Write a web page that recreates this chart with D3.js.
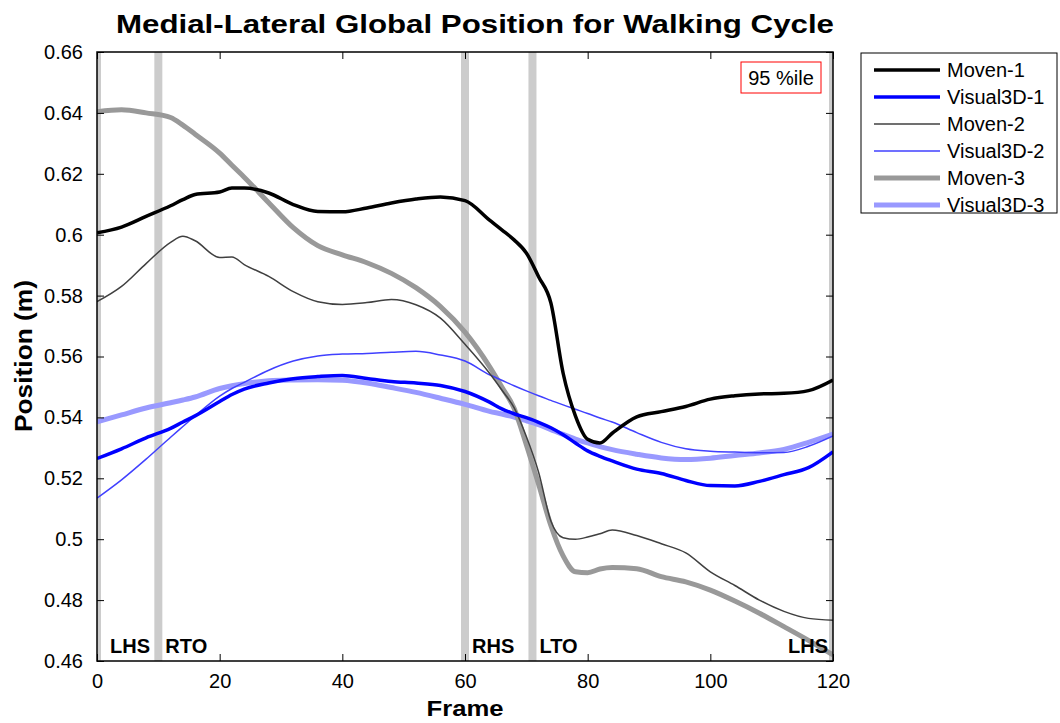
<!DOCTYPE html>
<html>
<head>
<meta charset="utf-8">
<script src="https://cdn.jsdelivr.net/npm/d3@7.9.0/dist/d3.min.js"></script>
<style>
  body { margin: 0; background: #fff; }
  svg { font-family: "Liberation Sans", Arial, sans-serif; }
</style>
</head>
<body>
<svg id="chart" width="1060" height="723"></svg>
<script>
// frames where the curves were sampled
const frames = [0,4,8,12,14,16,20,22,24,28,32,36,40,44,48,52,56,60,64,66,68,70,72,74,76,78,80,82,84,88,92,96,100,104,108,112,116,120];

const moven1 = [0.6006,0.6025,0.6060,0.6095,0.6115,0.6132,0.6140,0.6153,0.6153,0.6137,0.6099,0.6076,0.6075,0.6088,0.6104,0.6117,0.6124,0.6112,0.6048,0.6016,0.5983,0.5940,0.5862,0.5776,0.5545,0.5405,0.5328,0.5316,0.5348,0.5402,0.5419,0.5436,0.5460,0.5471,0.5477,0.5479,0.5488,0.5523];
const visual1 = [0.5265,0.5297,0.5333,0.5364,0.5385,0.5405,0.5452,0.5475,0.5493,0.5513,0.5527,0.5534,0.5538,0.5528,0.5518,0.5513,0.5505,0.5485,0.5450,0.5428,0.5412,0.5399,0.5384,0.5366,0.5343,0.5316,0.5290,0.5272,0.5257,0.5230,0.5216,0.5193,0.5176,0.5175,0.5190,0.5212,0.5235,0.5287];
const moven2 = [0.5780,0.5830,0.5905,0.5975,0.5995,0.5980,0.5925,0.5927,0.5902,0.5863,0.5813,0.5780,0.5771,0.5777,0.5787,0.5770,0.5726,0.5640,0.5545,0.5490,0.5432,0.5337,0.5220,0.5060,0.5005,0.5000,0.5007,0.5018,0.5030,0.5012,0.4985,0.4955,0.4893,0.4848,0.4800,0.4763,0.4740,0.4734];
const visual2 = [0.5135,0.5195,0.5263,0.5335,0.5370,0.5405,0.5470,0.5495,0.5515,0.5555,0.5585,0.5602,0.5608,0.5610,0.5614,0.5617,0.5605,0.5585,0.5540,0.5522,0.5504,0.5487,0.5471,0.5456,0.5441,0.5427,0.5413,0.5398,0.5385,0.5350,0.5318,0.5297,0.5289,0.5286,0.5284,0.5285,0.5305,0.5339];
const moven3 = [0.6404,0.6410,0.6400,0.6385,0.6360,0.6330,0.6268,0.6228,0.6189,0.6105,0.6023,0.5964,0.5934,0.5908,0.5873,0.5826,0.5764,0.5680,0.5567,0.5500,0.5430,0.5310,0.5180,0.5045,0.4945,0.4893,0.4890,0.4902,0.4907,0.4903,0.4877,0.4860,0.4833,0.4797,0.4757,0.4713,0.4668,0.4620];
const visual3 = [0.5385,0.5408,0.5431,0.5448,0.5457,0.5467,0.5495,0.5504,0.5511,0.5520,0.5523,0.5524,0.5522,0.5513,0.5498,0.5482,0.5463,0.5443,0.5420,0.5411,0.5401,0.5389,0.5376,0.5360,0.5344,0.5329,0.5316,0.5304,0.5294,0.5279,0.5267,0.5262,0.5266,0.5275,0.5283,0.5295,0.5318,0.5345];

const seriesNames = ["Moven-1","Visual3D-1","Moven-2","Visual3D-2","Moven-3","Visual3D-3"];

// gait events (gray bars)
const eventFrames = [0, 10, 60, 71, 120];
const eventLabels = ["LHS", "RTO", "RHS", "LTO", "LHS"];

const xTicks = [0,20,40,60,80,100,120];
const yTicks = [0.46,0.48,0.5,0.52,0.54,0.56,0.58,0.6,0.62,0.64,0.66];

const series = [
  {name: seriesNames[0], values: moven1,  color: "#000000", width: 3.5},
  {name: seriesNames[1], values: visual1, color: "#0000ff", width: 3.5},
  {name: seriesNames[2], values: moven2,  color: "#404040", width: 1.5},
  {name: seriesNames[3], values: visual2, color: "#4040ff", width: 1.5},
  {name: seriesNames[4], values: moven3,  color: "#999999", width: 5},
  {name: seriesNames[5], values: visual3, color: "#9999ff", width: 5}
];

const plotL = 97, plotT = 52, plotR = 833, plotB = 661;
const svg = d3.select('#chart');

const x = d3.scaleLinear().domain([0,120]).range([plotL,plotR]);
const y = d3.scaleLinear().domain([0.46,0.66]).range([plotB,plotT]);

svg.append('clipPath').attr('id','plotclip')
  .append('rect').attr('x',plotL).attr('y',plotT).attr('width',plotR-plotL).attr('height',plotB-plotT);

const plot = svg.append('g').attr('clip-path','url(#plotclip)');

// event bars
plot.selectAll('rect.ev')
  .data(eventFrames)
  .enter()
  .append('rect')
  .attr('x', d => x(d) - 4)
  .attr('y', plotT)
  .attr('width', 8)
  .attr('height', plotB - plotT)
  .attr('fill', '#cccccc');

// lines, drawn last-to-first so Moven-1 ends on top
let line = d3.line()
  .x((d, i) => x(frames[i]))
  .y(d => y(d))
  .curve(d3.curveMonotoneX);

plot.selectAll('path.s')
  .data(series.slice().reverse())
  .enter()
  .append('path')
  .attr('d', d => line(d.values))
  .attr('fill', 'none')
  .attr('stroke', d => d.color)
  .attr('stroke-width', d => d.width)
  .attr('stroke-linejoin', 'round');

// event labels
svg.selectAll('text.ev')
  .data(eventLabels)
  .enter()
  .append('text')
  .attr('x', (d, i) => i === 0 ? x(eventFrames[i]) + 13 : (i === eventLabels.length - 1 ? x(eventFrames[i]) - 5 : x(eventFrames[i]) + 7))
  .attr('y', 653)
  .attr('text-anchor', (d, i) => i === eventLabels.length - 1 ? 'end' : 'start')
  .attr('font-size', 20)
  .attr('font-weight', 'bold')
  .text(d => d);

// axes box + inward ticks
const fmt = v => String(+v.toFixed(2));
svg.append('g').attr('transform', `translate(0,${plotB})`)
  .call(d3.axisBottom(x).tickValues(xTicks).tickSize(-7).tickPadding(13).tickFormat(d3.format('d')))
  .call(g => g.select('.domain').remove());
svg.append('g').attr('transform', `translate(0,${plotT})`)
  .call(d3.axisTop(x).tickValues(xTicks).tickSize(-7).tickFormat(''))
  .call(g => g.select('.domain').remove());
svg.append('g').attr('transform', `translate(${plotL},0)`)
  .call(d3.axisLeft(y).tickValues(yTicks).tickSize(-7).tickPadding(14).tickFormat(fmt))
  .call(g => g.select('.domain').remove());
svg.append('g').attr('transform', `translate(${plotR},0)`)
  .call(d3.axisRight(y).tickValues(yTicks).tickSize(-7).tickFormat(''))
  .call(g => g.select('.domain').remove());

svg.selectAll('.tick text')
  .attr('font-size', 20)
  .attr('font-family', '"Liberation Sans", Arial, sans-serif')
  .attr('fill', '#000');
svg.selectAll('.tick line').attr('stroke', '#000');

svg.append('rect')
  .attr('x', plotL).attr('y', plotT)
  .attr('width', plotR - plotL).attr('height', plotB - plotT)
  .attr('fill', 'none').attr('stroke', '#000').attr('stroke-width', 1.5);

// title and axis labels
svg.append('text')
  .attr('x', 475).attr('y', 33)
  .attr('text-anchor', 'middle')
  .attr('font-size', 26).attr('font-weight', 'bold')
  .attr('textLength', 718).attr('lengthAdjust', 'spacingAndGlyphs')
  .text('Medial-Lateral Global Position for Walking Cycle');

svg.append('text')
  .attr('x', 465).attr('y', 716)
  .attr('text-anchor', 'middle')
  .attr('font-size', 22).attr('font-weight', 'bold')
  .attr('textLength', 77).attr('lengthAdjust', 'spacingAndGlyphs')
  .text('Frame');

svg.append('text')
  .attr('transform', 'translate(32,356) rotate(-90)')
  .attr('text-anchor', 'middle')
  .attr('font-size', 23).attr('font-weight', 'bold')
  .attr('textLength', 152).attr('lengthAdjust', 'spacingAndGlyphs')
  .text('Position (m)');

// percentile box
svg.append('rect')
  .attr('x', 741).attr('y', 62).attr('width', 80).attr('height', 31)
  .attr('fill', '#fff').attr('stroke', '#ff0000').attr('stroke-width', 1);
svg.append('text')
  .attr('x', 781).attr('y', 85)
  .attr('text-anchor', 'middle')
  .attr('font-size', 20)
  .text('95 %ile');

// legend
const legend = svg.append('g');
legend.append('rect')
  .attr('x', 861).attr('y', 53).attr('width', 196).attr('height', 160)
  .attr('fill', '#fff').attr('stroke', '#000').attr('stroke-width', 1);

series.forEach((s, idx) => {
  let cy = 70 + idx * 27;
  legend.append('line')
    .attr('x1', 874).attr('x2', 940)
    .attr('y1', cy).attr('y2', cy)
    .attr('stroke', s.color)
    .attr('stroke-width', s.width);
  legend.append('text')
    .attr('x', 947).attr('y', cy + 7)
    .attr('font-size', 20)
    .text(s.name);
});
</script>
</body>
</html>
